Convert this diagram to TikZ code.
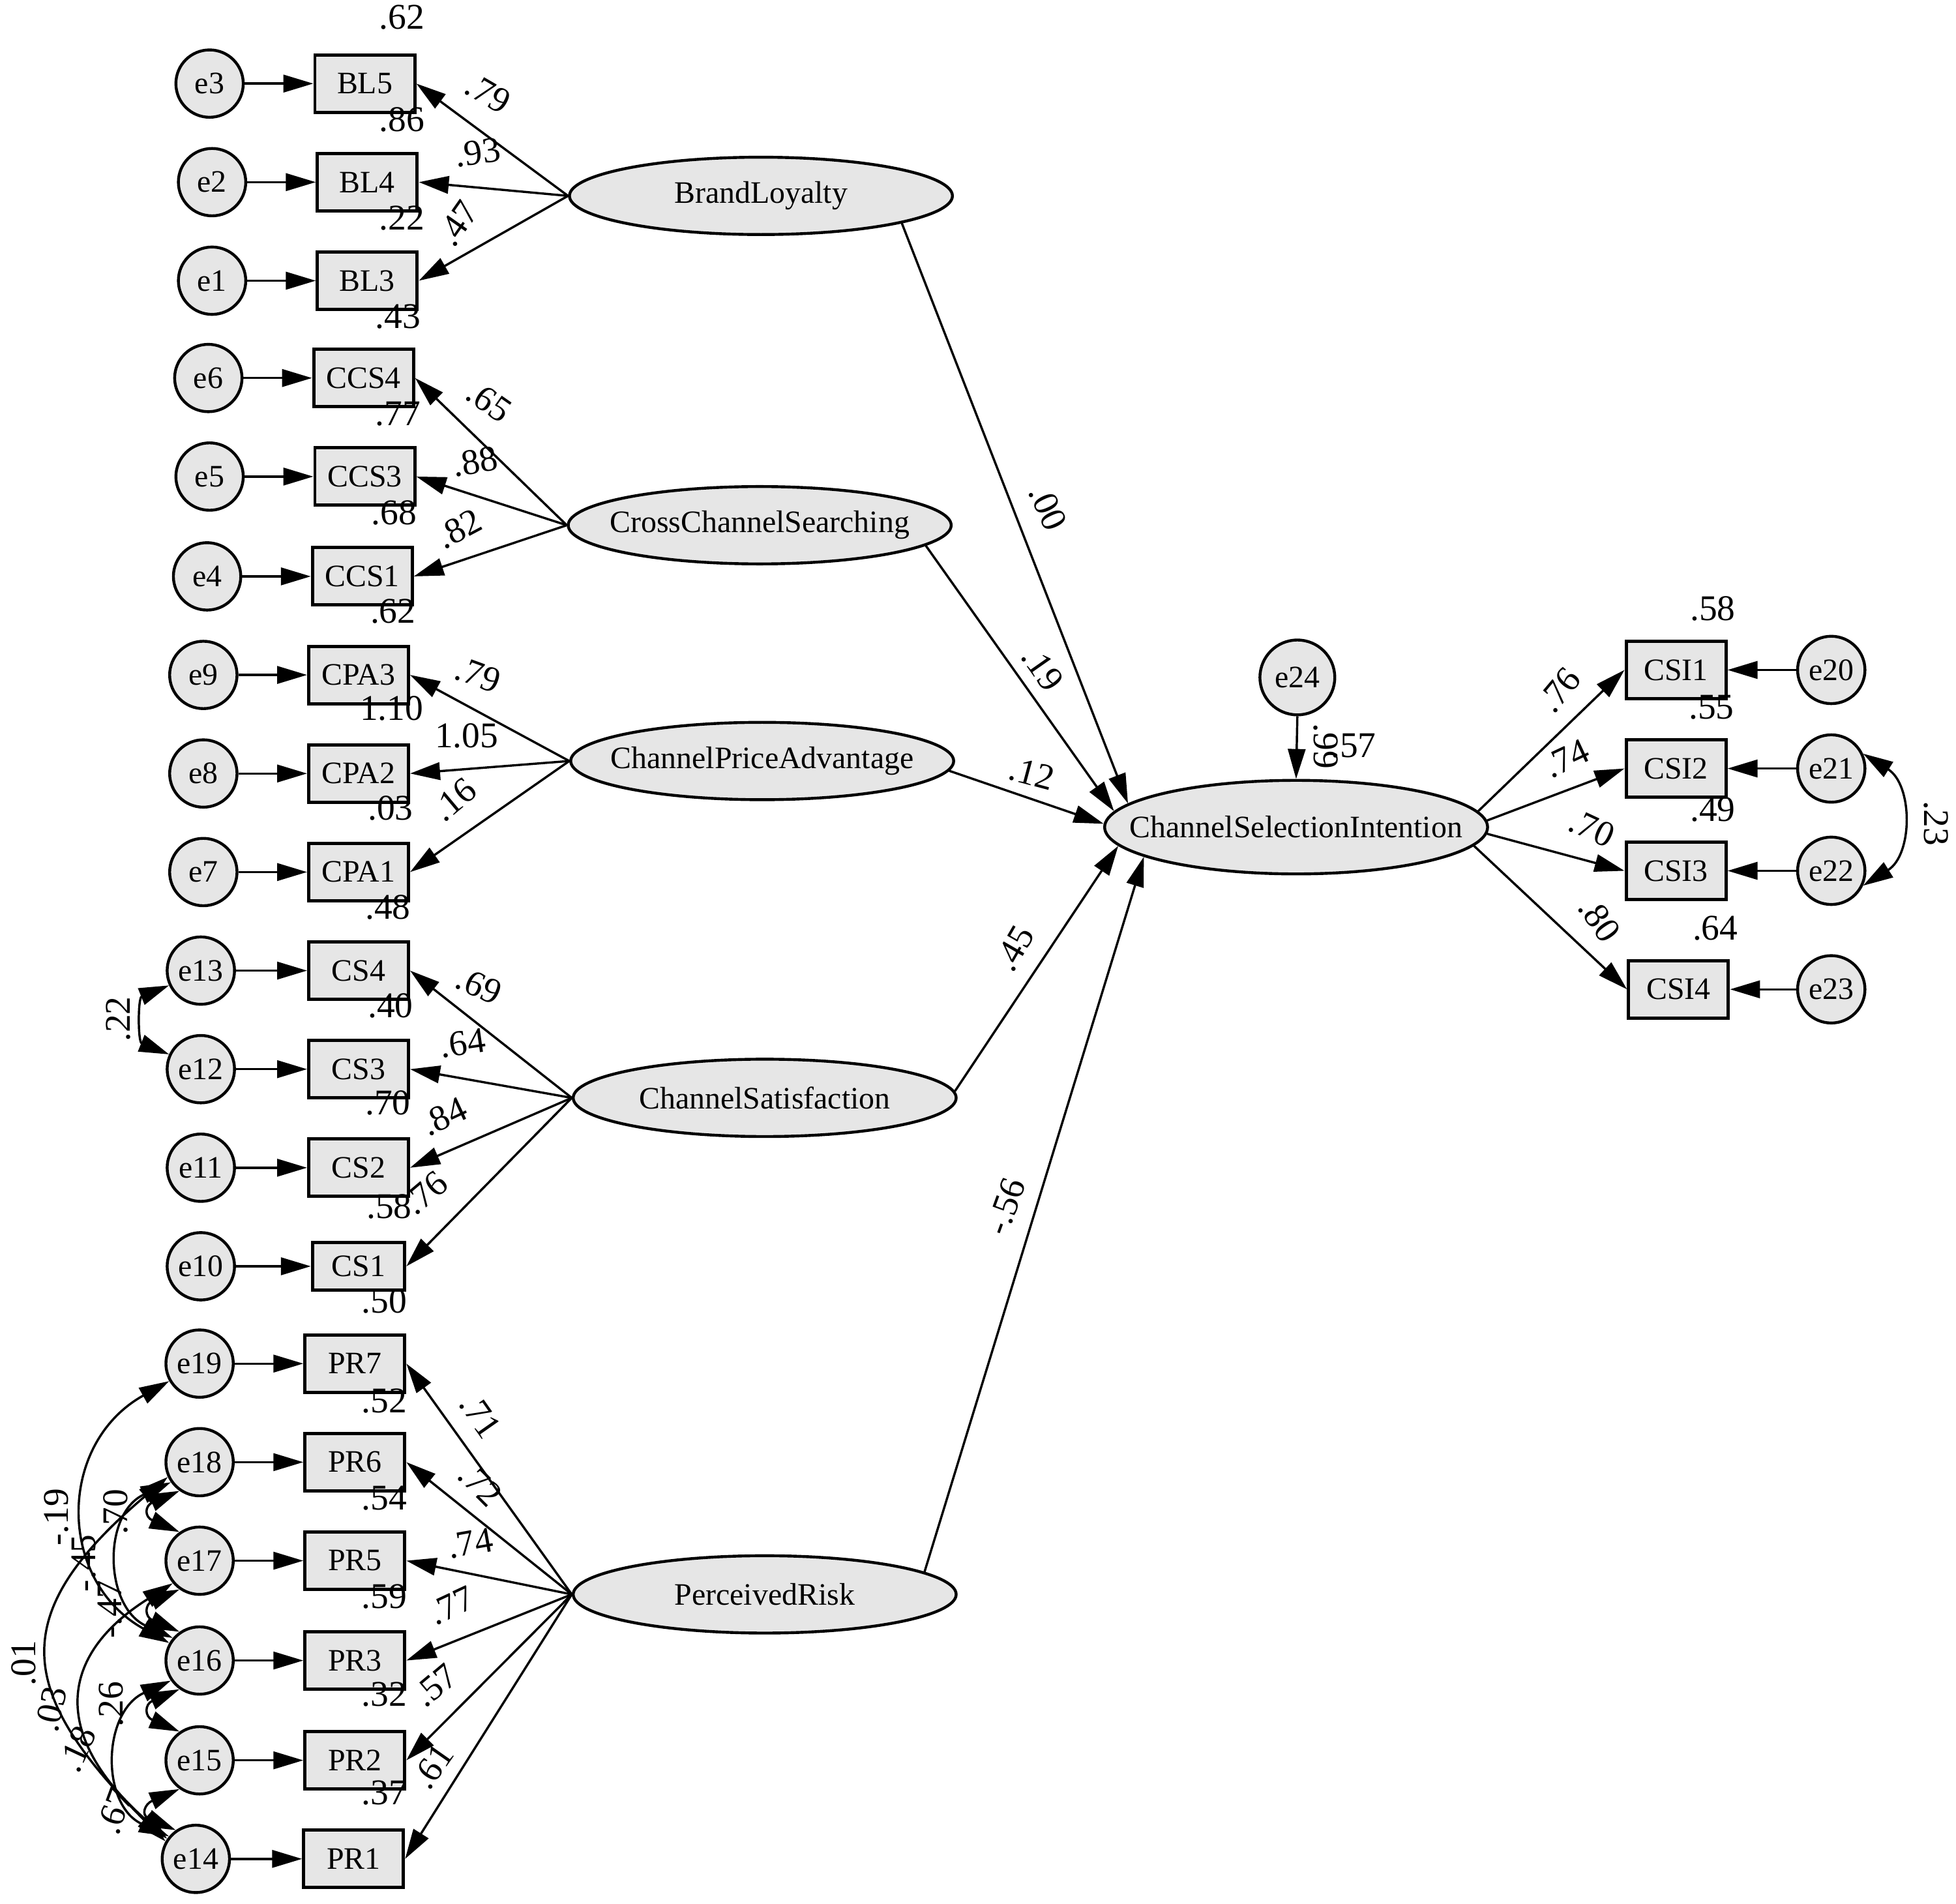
\documentclass[tikz,border=0pt]{standalone}
\usepackage{fontspec}
\setmainfont{Liberation Serif}
\usepackage{tikz}
\usetikzlibrary{positioning,arrows.meta,calc,shapes.geometric}
\definecolor{varfill}{HTML}{E6E6E6}

\begin{document}
\begin{tikzpicture}[x=1pt,y=-1pt,font=\fontsize{25pt}{25pt}\selectfont,
   err/.style={circle,draw,line width=2.3pt,fill=varfill,minimum size=54pt,inner sep=0pt},
   obs/.style={rectangle,draw,line width=2.6pt,fill=varfill,minimum width=80pt,
              minimum height=46pt,inner sep=0pt},
   lat/.style={ellipse,draw,line width=2.3pt,fill=varfill,minimum width=307pt,
              minimum height=62pt,inner xsep=-40pt,inner ysep=0pt},
   num/.style={inner sep=0pt,font=\fontsize{29pt}{29pt}\selectfont},
   cov/.style={<->},
   line width=1.8pt,>={Triangle[length=24pt,width=14pt]},node distance=55pt,
]
\useasboundingbox (0,0) rectangle (1568,1526);

% indicators with their error terms
\node[err] (e3)  at (168,67)   {e3};
\node[obs,right=of e3] (BL5) {BL5};
\node[err] (e2)  at (170,146)  {e2};
\node[obs,right=of e2] (BL4) {BL4};
\node[err] (e1)  at (170,225)  {e1};
\node[obs,right=of e1] (BL3) {BL3};
\node[err] (e6)  at (167,303)  {e6};
\node[obs,right=of e6] (CCS4) {CCS4};
\node[err] (e5)  at (168,382)  {e5};
\node[obs,right=of e5] (CCS3) {CCS3};
\node[err] (e4)  at (166,462)  {e4};
\node[obs,right=of e4] (CCS1) {CCS1};
\node[err] (e9)  at (163,541)  {e9};
\node[obs,right=of e9] (CPA3) {CPA3};
\node[err] (e8)  at (163,620)  {e8};
\node[obs,right=of e8] (CPA2) {CPA2};
\node[err] (e7)  at (163,699)  {e7};
\node[obs,right=of e7] (CPA1) {CPA1};
\node[err] (e13) at (161,778)  {e13};
\node[obs,right=57pt of e13] (CS4) {CS4};
\node[err] (e12) at (161,857)  {e12};
\node[obs,right=57pt of e12] (CS3) {CS3};
\node[err] (e11) at (161,936)  {e11};
\node[obs,right=57pt of e11] (CS2) {CS2};
\node[err] (e10) at (161,1015) {e10};
\node[obs,right=60pt of e10,minimum width=74pt,minimum height=38pt] (CS1) {CS1};
\node[err] (e19) at (160,1093) {e19};
\node[obs,right=of e19] (PR7) {PR7};
\node[err] (e18) at (160,1172) {e18};
\node[obs,right=of e18] (PR6) {PR6};
\node[err] (e17) at (160,1251) {e17};
\node[obs,right=of e17] (PR5) {PR5};
\node[err] (e16) at (160,1331) {e16};
\node[obs,right=of e16] (PR3) {PR3};
\node[err] (e15) at (160,1411) {e15};
\node[obs,right=of e15] (PR2) {PR2};
\node[err] (e14) at (157,1490) {e14};
\node[obs,right=57pt of e14] (PR1) {PR1};

\node[lat] (BLl)  at (610,157)  {BrandLoyalty};
\node[lat] (CCSl) at (609,421)  {CrossChannelSearching};
\node[lat] (CPAl) at (611,610)  {ChannelPriceAdvantage};
\node[lat] (CSl)  at (613,880)  {ChannelSatisfaction};
\node[lat] (PRl)  at (613,1278) {PerceivedRisk};
\node[lat,minimum height=75pt] (CSIl) at (1039,663) {ChannelSelectionIntention};
\node[err,minimum size=60pt] (e24) at (1040,543) {e24};

\node[err] (e20) at (1468,537) {e20};
\node[obs,left=of e20] (CSI1) {CSI1};
\node[err] (e21) at (1468,616) {e21};
\node[obs,left=of e21] (CSI2) {CSI2};
\node[err] (e22) at (1468,698) {e22};
\node[obs,left=of e22] (CSI3) {CSI3};
\node[err] (e23) at (1468,793) {e23};
\node[obs,left=53pt of e23] (CSI4) {CSI4};

\draw[->] (e3) -- (BL5);
\draw[->] (e2) -- (BL4);
\draw[->] (e1) -- (BL3);
\draw[->] (e6) -- (CCS4);
\draw[->] (e5) -- (CCS3);
\draw[->] (e4) -- (CCS1);
\draw[->] (e9) -- (CPA3);
\draw[->] (e8) -- (CPA2);
\draw[->] (e7) -- (CPA1);
\draw[->] (e13) -- (CS4);
\draw[->] (e12) -- (CS3);
\draw[->] (e11) -- (CS2);
\draw[->] (e10) -- (CS1);
\draw[->] (e19) -- (PR7);
\draw[->] (e18) -- (PR6);
\draw[->] (e17) -- (PR5);
\draw[->] (e16) -- (PR3);
\draw[->] (e15) -- (PR2);
\draw[->] (e14) -- (PR1);
\draw[->] (e20) -- (CSI1);
\draw[->] (e21) -- (CSI2);
\draw[->] (e22) -- (CSI3);
\draw[->] (e23) -- (CSI4);

\draw[->] (BLl.west) -- (BL5.east);
\draw[->] (BLl.west) -- (BL4.east);
\draw[->] (BLl.west) -- (BL3.east);
\draw[->] (CCSl.west) -- (CCS4.east);
\draw[->] (CCSl.west) -- (CCS3.east);
\draw[->] (CCSl.west) -- (CCS1.east);
\draw[->] (CPAl.west) -- (CPA3.east);
\draw[->] (CPAl.west) -- (CPA2.east);
\draw[->] (CPAl.west) -- (CPA1.east);
\draw[->] (CSl.west) -- (CS4.east);
\draw[->] (CSl.west) -- (CS3.east);
\draw[->] (CSl.west) -- (CS2.east);
\draw[->] (CSl.west) -- (CS1.east);
\draw[->] (PRl.west) -- (PR7.east);
\draw[->] (PRl.west) -- (PR6.east);
\draw[->] (PRl.west) -- (PR5.east);
\draw[->] (PRl.west) -- (PR3.east);
\draw[->] (PRl.west) -- (PR2.east);
\draw[->] (PRl.west) -- (PR1.east);

\draw[->] (BLl.-11) -- (CSIl.172);
\draw[->] (CCSl.-7) -- (CSIl.175);
\draw[->] (CPAl.-3) -- (CSIl.179);
\draw[->] (CSl.2) -- (CSIl.-174);
\draw[->] (PRl.8) -- (CSIl.-169);
\draw[->] (e24.south) -- (CSIl.north);
\draw[->] (CSIl.5) -- (CSI1.west);
\draw[->] (CSIl.2) -- (CSI2.west);
\draw[->] (CSIl.-2) -- (CSI3.west);
\draw[->] (CSIl.-6) -- (CSI4.west);

% correlated errors
\draw[cov] (e13.205) .. controls +(-25,10) and +(-25,-10) .. (e12.155);
\draw[cov] (e21.25) .. controls +(40,25) and +(40,-25) .. (e22.-25);
\draw[cov] (e19.210) .. controls +(-90,50) and +(-90,-50) .. (e16.150);
\draw[cov] (e18.205) .. controls +(-130,110) and +(-120,-120) .. (e14.150);
\draw[cov] (e18.215) .. controls +(-55,25) and +(-55,-25) .. (e16.140);
\draw[cov] (e17.220) .. controls +(-95,60) and +(-90,-80) .. (e14.145);
\draw[cov] (e16.215) .. controls +(-55,25) and +(-55,-25) .. (e14.140);
\draw[cov] (e18.235) .. controls +(-28,12) and +(-28,-12) .. (e17.125);
\draw[cov] (e17.235) .. controls +(-28,12) and +(-28,-12) .. (e16.125);
\draw[cov] (e16.235) .. controls +(-28,12) and +(-28,-12) .. (e15.125);
\draw[cov] (e15.235) .. controls +(-28,12) and +(-28,-12) .. (e14.125);

% squared multiple correlations
\node[num] (rBL5)  at (322,14)   {.62};
\node[num] (rBL4)  at (322,96)   {.86};
\node[num] (rBL3)  at (322,175)  {.22};
\node[num] (rCCS4) at (319,254)  {.43};
\node[num] (rCCS3) at (319,332)  {.77};
\node[num] (rCCS1) at (316,411)  {.68};
\node[num] (rCPA3) at (315,490)  {.62};
\node[num] (rCPA2) at (314,568)  {1.10};
\node[num] (rCPA1) at (313,648)  {.03};
\node[num] (rCS4)  at (311,727)  {.48};
\node[num] (rCS3)  at (313,806)  {.40};
\node[num] (rCS2)  at (311,884)  {.70};
\node[num] (rCS1)  at (312,967)  {.58};
\node[num] (rPR7)  at (308,1043) {.50};
\node[num] (rPR6)  at (308,1123) {.52};
\node[num] (rPR5)  at (308,1201) {.54};
\node[num] (rPR3)  at (308,1280) {.59};
\node[num] (rPR2)  at (308,1358) {.32};
\node[num] (rPR1)  at (308,1437) {.37};
\node[num] (rCSI1) at (1373,488) {.58};
\node[num] (rCSI2) at (1372,567) {.55};
\node[num] (rCSI3) at (1373,649) {.49};
\node[num] (rCSI4) at (1375,744) {.64};
\node[num] (rCSIl) at (1085,598) {.57};
\node[num,rotate=-90] (wE24) at (1063,598) {.99};

% loadings and paths
\node[num,rotate=-30] (wBL5)  at (391,75)   {.79};
\node[num,rotate=8]   (wBL4)  at (383,122)  {.93};
\node[num,rotate=55]  (wBL3)  at (367,179)  {.47};
\node[num,rotate=-35] (wCCS4) at (392,322)  {.65};
\node[num,rotate=10]  (wCCS3) at (381,370)  {.88};
\node[num,rotate=28]  (wCCS1) at (368,424)  {.82};
\node[num,rotate=-20] (wCPA3) at (383,541)  {.79};
\node[num]            (wCPA2) at (374,590)  {1.05};
\node[num,rotate=40]  (wCPA1) at (364,641)  {.16};
\node[num,rotate=-25] (wCS4)  at (384,790)  {.69};
\node[num,rotate=8]   (wCS3)  at (371,836)  {.64};
\node[num,rotate=25]  (wCS2)  at (356,895)  {.84};
\node[num,rotate=40]  (wCS1)  at (341,956)  {.76};
\node[num,rotate=-55] (wPR7)  at (385,1135) {.71};
\node[num,rotate=-45] (wPR6)  at (385,1190) {.72};
\node[num,rotate=10]  (wPR5)  at (377,1237) {.74};
\node[num,rotate=25]  (wPR3)  at (362,1287) {.77};
\node[num,rotate=40]  (wPR2)  at (349,1351) {.57};
\node[num,rotate=55]  (wPR1)  at (347,1416) {.61};
\node[num,rotate=-65] (bBL)   at (840,407)  {.00};
\node[num,rotate=-55] (bCCS)  at (836,536)  {.19};
\node[num,rotate=-15] (bCPA)  at (827,620)  {.12};
\node[num,rotate=60]  (bCS)   at (813,760)  {.45};
\node[num,rotate=70]  (bPR)   at (806,967)  {-.56};
\node[num,rotate=50]  (wCSI1) at (1250,553) {.76};
\node[num,rotate=25]  (wCSI2) at (1256,608) {.74};
\node[num,rotate=-25] (wCSI3) at (1276,664) {.70};
\node[num,rotate=-55] (wCSI4) at (1282,737) {.80};

% covariance values
\node[num,rotate=90]  (cE13) at (95,817)   {.22};
\node[num,rotate=-90] (cE21) at (1552,660) {.23};
\node[num,rotate=90]  (cA)   at (45,1216)  {-.19};
\node[num,rotate=90]  (cB)   at (67,1253)  {-.45};
\node[num,rotate=90]  (cC)   at (93,1212)  {.70};
\node[num,rotate=90]  (cD)   at (88,1290)  {-.47};
\node[num,rotate=90]  (cE)   at (19,1333)  {.01};
\node[num,rotate=78]  (cF)   at (41,1370)  {.03};
\node[num,rotate=65]  (cG)   at (62,1402)  {.18};
\node[num,rotate=90]  (cH)   at (89,1366)  {.26};
\node[num,rotate=70]  (cI)   at (92,1452)  {.67};
\end{tikzpicture}
\end{document}
